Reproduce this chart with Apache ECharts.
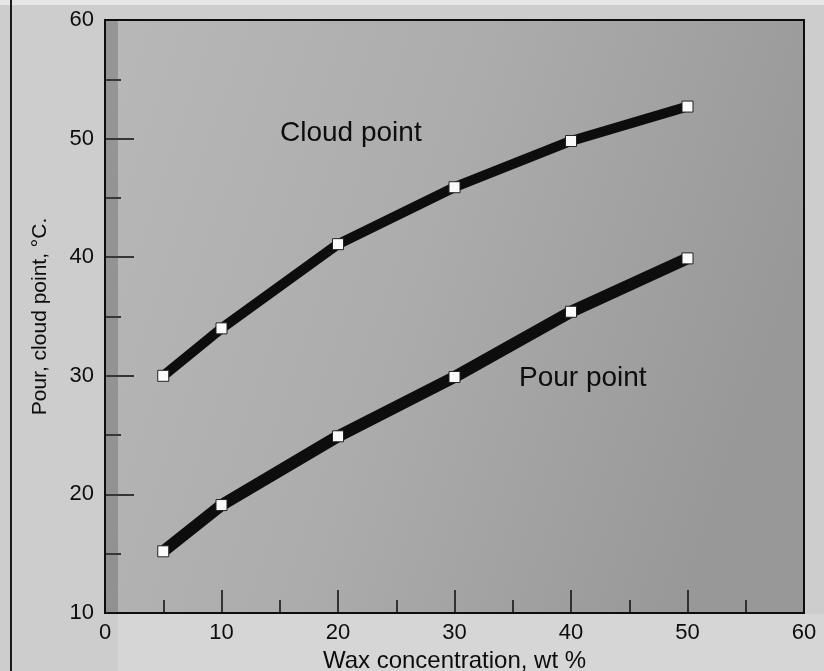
<!DOCTYPE html>
<html>
<head>
<meta charset="utf-8">
<script src="https://cdn.jsdelivr.net/npm/echarts@6/dist/echarts.min.js"></script>
<style>
  html, body { margin: 0; padding: 0; background: #cdcdcd; }
  #chart { width: 824px; height: 671px; }
</style>
</head>
<body>
<div id="chart"></div>
<script>
// Wax concentration (wt %) and the measured cloud / pour points (°C)
const waxConcentration = [5, 10, 20, 30, 40, 50];
const cloudPoint = [30, 34, 41.1, 45.9, 49.8, 52.7];
const pourPoint = [15.2, 19.1, 24.9, 29.9, 35.4, 39.9];

const xTicks = { min: 0, max: 60, interval: 10 };
const yTicks = { min: 10, max: 60, interval: 10 };

const FONT = '"Liberation Sans", Arial, Helvetica, sans-serif';
const INK = '#0d0d0d';

const chart = echarts.init(document.getElementById('chart'), null, { renderer: 'canvas' });

function pairs(xs, ys) {
  return xs.map((x, i) => [x, ys[i]]);
}

function curve(name, values, width) {
  return {
    name: name,
    type: 'line',
    data: pairs(waxConcentration, values),
    symbol: 'rect',
    symbolSize: 11,
    showAllSymbol: true,
    lineStyle: { color: INK, width: width, cap: 'butt', join: 'round' },
    itemStyle: { color: '#fafafa', borderColor: '#222', borderWidth: 1 },
    emphasis: { disabled: true },
    z: 5
  };
}

const option = {
  backgroundColor: '#cdcdcd',
  animation: false,
  grid: {
    left: 105, top: 20, right: 20, bottom: 58,
    outerBoundsMode: 'none',
    containLabel: false,
    show: true,
    borderColor: INK,
    borderWidth: 2,
    backgroundColor: {
      type: 'linear', x: 0, y: 0, x2: 1, y2: 0.4,
      colorStops: [
        { offset: 0, color: '#b8b8b8' },
        { offset: 0.5, color: '#acacac' },
        { offset: 1, color: '#989898' }
      ]
    }
  },
  xAxis: {
    type: 'value',
    min: xTicks.min, max: xTicks.max, interval: xTicks.interval,
    name: 'Wax concentration, wt %',
    nameLocation: 'middle',
    nameGap: 35,
    nameTextStyle: { color: INK, fontFamily: FONT, fontSize: 24 },
    axisLine: { show: true, onZero: false, lineStyle: { color: INK, width: 2 } },
    axisTick: { show: true, inside: true, length: 23, lineStyle: { color: INK, width: 1.5 } },
    minorTick: { show: true, splitNumber: 2, length: 13, lineStyle: { color: INK, width: 1.5 } },
    axisLabel: { color: INK, fontFamily: FONT, fontSize: 22, margin: 9 },
    splitLine: { show: false }
  },
  yAxis: {
    type: 'value',
    min: yTicks.min, max: yTicks.max, interval: yTicks.interval,
    name: 'Pour, cloud point, °C.',
    nameLocation: 'middle',
    nameRotate: 90,
    nameGap: 54,
    nameTextStyle: { color: INK, fontFamily: FONT, fontSize: 21 },
    axisLine: { show: true, onZero: false, lineStyle: { color: INK, width: 2 } },
    axisTick: { show: true, inside: true, length: 29, lineStyle: { color: INK, width: 1.5 } },
    minorTick: { show: true, splitNumber: 2, length: 16, lineStyle: { color: INK, width: 1.5 } },
    axisLabel: { color: INK, fontFamily: FONT, fontSize: 22, margin: 11 },
    splitLine: { show: false }
  },
  graphic: [
    // pale strip along the top edge of the page
    { type: 'rect', shape: { x: 0, y: 0, width: 824, height: 5 }, style: { fill: '#e6e6e6' }, z: -10, silent: true },
    // lighter paper below the axis
    { type: 'rect', shape: { x: 118, y: 614, width: 706, height: 57 }, style: { fill: '#d6d6d6' }, z: -10, silent: true },
    // page margin rule on the left
    { type: 'rect', shape: { x: 10, y: 0, width: 2, height: 671 }, style: { fill: '#1a1a1a' }, z: 1, silent: true },
    // shaded band just inside the left frame
    { type: 'rect', shape: { x: 106, y: 21, width: 12, height: 592 }, style: { fill: 'rgba(60,60,60,0.28)' }, z: 1, silent: true },
    {
      type: 'text', left: 280, top: 119, z: 6, silent: true,
      style: { text: 'Cloud point', fill: INK, font: '28px ' + FONT }
    },
    {
      type: 'text', left: 519, top: 364, z: 6, silent: true,
      style: { text: 'Pour point', fill: INK, font: '28px ' + FONT }
    }
  ],
  series: [
    curve('Cloud point', cloudPoint, 10),
    curve('Pour point', pourPoint, 12)
  ]
};

chart.setOption(option);
</script>
</body>
</html>
